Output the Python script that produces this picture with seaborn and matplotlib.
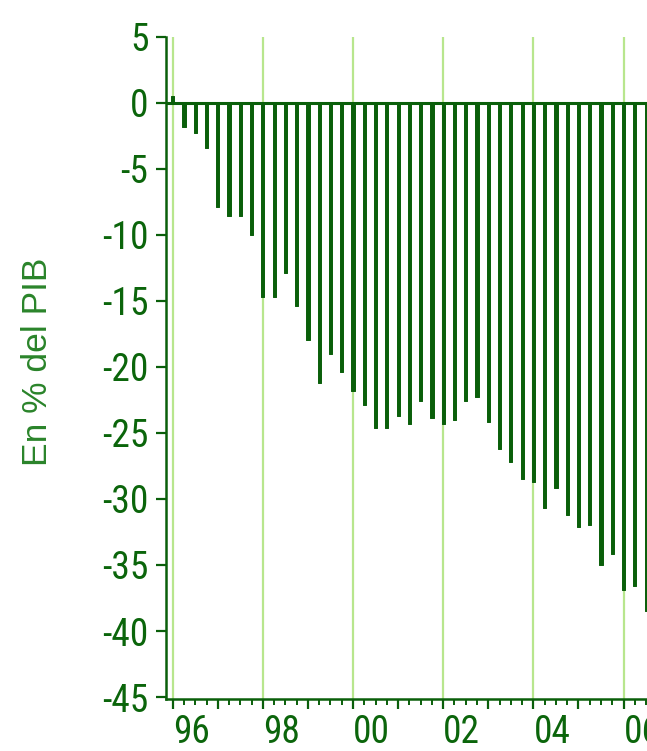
import numpy as np
import pandas as pd
import seaborn as sns
import matplotlib.pyplot as plt
from matplotlib import font_manager
from matplotlib.ticker import FixedLocator, MultipleLocator

# Quarterly periods shown on the chart (1996Q1 .. 2006Q3)
quarters = pd.period_range("1996Q1", "2006Q3", freq="Q")

# Values, % of GDP
values = [
    0.5, -1.8, -2.3, -3.4,          # 1996
    -7.9, -8.6, -8.6, -10.0,        # 1997
    -14.7, -14.7, -12.9, -15.4,     # 1998
    -18.0, -21.2, -19.0, -20.4,     # 1999
    -21.8, -22.9, -24.6, -24.6,     # 2000
    -23.7, -24.3, -22.6, -23.9,     # 2001
    -24.3, -24.0, -22.6, -22.3,     # 2002
    -24.2, -26.2, -27.2, -28.5,     # 2003
    -28.7, -30.7, -29.2, -31.2,     # 2004
    -32.1, -32.0, -35.0, -34.2,     # 2005
    -36.9, -36.6, -38.5,            # 2006
]

year_ticks = list(range(1996, 2007))
year_labels = ["96", "", "98", "", "00", "", "02", "", "04", "", "06"]
y_ticks = [5, 0, -5, -10, -15, -20, -25, -30, -35, -40, -45]
y_label = "En % del PIB"

df = pd.DataFrame({
    "t": quarters.year + (quarters.quarter - 1) / 4,
    "value": values,
})

dark = "#0a5f0a"
text_green = "#0b650b"
label_green = "#2a842a"
grid_green = "#b8e68e"

# pick a narrow face for the tick numbers if one is installed
names = {f.name for f in font_manager.fontManager.ttflist}
narrow = None
for cand in ["Liberation Sans Narrow", "Roboto Condensed", "Open Sans Condensed",
             "DejaVu Sans Condensed", "Noto Sans Condensed"]:
    if cand in names:
        narrow = cand
        break

sns.set_style("white")
if narrow:
    tick_font = dict(family=[narrow, "DejaVu Sans"])
else:
    tick_font = dict(family=["DejaVu Sans"], stretch="condensed")
plt.rcParams["font.family"] = ["DejaVu Sans"]

fig = plt.figure(figsize=(6.47, 7.51), dpi=100)
ax = fig.add_axes([0.2561, 0.0692, 0.7439, 0.8819])

# light green vertical grid at every second year
for yr in year_ticks[::2]:
    ax.axvline(yr, color=grid_green, lw=1.6, zorder=0)

sns.barplot(data=df, x="t", y="value", native_scale=True, width=0.28,
            color=dark, saturation=1, errorbar=None, ax=ax, zorder=2)
for p in ax.patches:
    p.set_edgecolor(dark)
    p.set_linewidth(0.7)
    p.set_joinstyle("round")

ax.axhline(0, color=dark, lw=2.2, zorder=3)

ax.set_xlim(1995.845, 2006.52)
ax.set_ylim(-45.15, 5)

ax.set_yticks(y_ticks)
ax.set_yticklabels([str(v) for v in y_ticks])
ax.xaxis.set_major_locator(FixedLocator(year_ticks))
ax.set_xticklabels(year_labels, ha="left")
ax.xaxis.set_minor_locator(MultipleLocator(0.25))

ax.tick_params(axis="y", which="major", direction="out", length=7.5, width=1.6,
               color=dark, labelcolor=text_green, labelsize=27, pad=5, left=True)
ax.tick_params(axis="x", which="major", direction="out", length=7.5, width=1.6,
               color=dark, labelcolor=text_green, labelsize=27, pad=3.5, bottom=True)
ax.tick_params(axis="x", which="minor", direction="out", length=4, width=1.4,
               color=dark, bottom=True)
for lab in ax.get_xticklabels() + ax.get_yticklabels():
    lab.set(**tick_font)
for lab in ax.get_xticklabels():
    lab.set_horizontalalignment("left")

for side in ["top", "right"]:
    ax.spines[side].set_visible(False)
for side in ["left", "bottom"]:
    ax.spines[side].set_color(dark)
    ax.spines[side].set_linewidth(1.8)

ax.set_xlabel("")
ax.set_ylabel(y_label, color=label_green, fontsize=25.5,
              family=["Liberation Sans", "Arimo", "DejaVu Sans"])
ax.yaxis.set_label_coords(-0.232, 0.509, transform=ax.transAxes)

fig.savefig("out.png", dpi=100)
